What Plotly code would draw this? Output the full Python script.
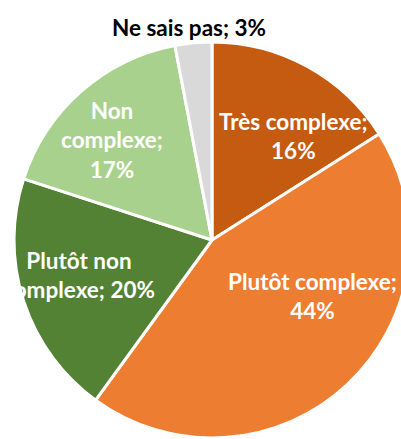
import plotly.graph_objects as go

labels = ["Très complexe", "Plutôt complexe", "Plutôt non complexe", "Non complexe", "Ne sais pas"]
values = [16, 44, 20, 17, 3]
label_text = ["Très complexe;<br>16%", "Plutôt complexe;<br>44%", "Plutôt non<br>complexe; 20%",
              "Non<br>complexe;<br>17%", "Ne sais pas; 3%"]
colors = ["#C55A11", "#ED7D31", "#548235", "#A9D18E", "#D9D9D9"]
label_colors = ["white", "white", "white", "white", "black"]
# label anchor positions in pixels (layout only)
label_pos = [(293, 136), (312, 296), (79, 275), (112, 140), (189, 27)]

W, H = 424, 439
FONT = "Lato"
FS = 22.5

fig = go.Figure(go.Pie(
    labels=labels, values=values,
    textinfo="none", sort=False, direction="clockwise", rotation=0,
    marker=dict(colors=colors, line=dict(color="white", width=3)),
    domain=dict(x=[0, 1], y=[1 / H, 397 / H]),
    showlegend=False, hoverinfo="label+percent",
))
for t, c, (px, py) in zip(label_text, label_colors, label_pos):
    fig.add_annotation(text=f"<b>{t}</b>", x=px / W, y=1 - py / H,
                       xref="paper", yref="paper", xanchor="center", yanchor="middle",
                       showarrow=False, align="center",
                       font=dict(color=c, family=FONT, size=FS))
fig.update_layout(
    width=W, height=H, margin=dict(l=0, r=0, t=0, b=0),
    paper_bgcolor="white", font=dict(family=FONT, size=FS),
)
fig.write_html("out.html", config={"displayModeBar": False},
               post_script="document.body.style.margin='0';document.body.style.overflow='hidden';document.documentElement.style.overflow='hidden';")
